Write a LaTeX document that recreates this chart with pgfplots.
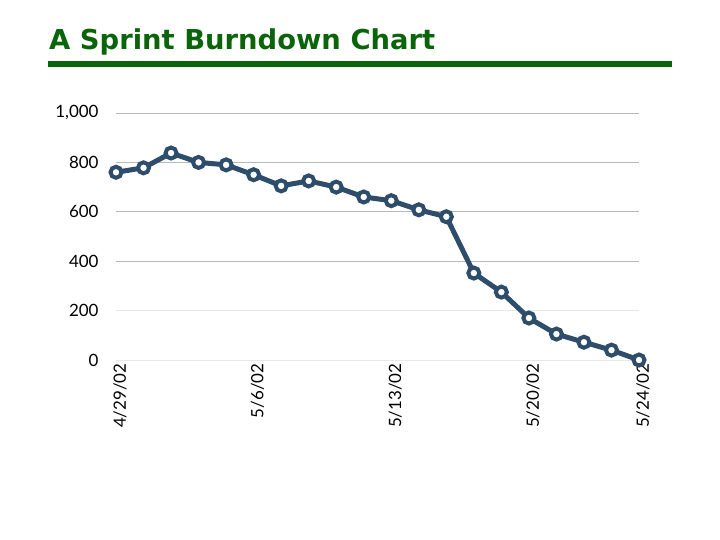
\documentclass[border=0pt]{standalone}
\usepackage{fontspec}
\setmainfont{Lato}
\newfontfamily\titlefont{DejaVu Sans}
\usepackage{pgfplots}
\pgfplotsset{compat=1.18}
\definecolor{burn}{HTML}{2D4D6B}
\definecolor{titlegreen}{HTML}{0A640A}

\begin{document}
\begin{tikzpicture}[x=1bp,y=1bp]
\useasboundingbox (0,0) rectangle (720,-540);
\node[anchor=base west, inner sep=0pt, text=titlegreen, font=\titlefont\bfseries\fontsize{27.5}{32}\selectfont] at (49,-50) {A Sprint Burndown Chart};
\fill[titlegreen] (48,-61) rectangle (672,-67);
\begin{axis}[
    at={(116bp,-360bp)}, anchor=south west,
    scale only axis,
    width=523bp, height=247bp,
    xmin=0, xmax=19, ymin=0, ymax=1000,
    clip=false,
    axis line style={draw=none},
    major tick length=0pt,
    ymajorgrids,
    grid style={line width=1bp, color=black!28},
    ytick={400,600,800,1000},
    yticklabels={400,600,800,{1,000}},
    extra y ticks={0,200},
    extra y tick labels={0,200},
    extra y tick style={grid style={line width=1bp, color=black!9}},
    extra tick style={major tick length=0pt},
    xtick={0,5,10,15,19},
    xticklabels={4/29/02,5/6/02,5/13/02,5/20/02,5/24/02},
    x tick label style={rotate=90, anchor=east, font=\fontsize{17}{19}\selectfont},
    y tick label style={font=\fontsize{17}{19}\selectfont},
    yticklabel style={xshift=-14bp},
    xticklabel style={yshift=-4bp},
    /pgf/number format/assume math mode=true,
]
\addplot[color=burn, line width=5bp, mark=*, mark size=5.5bp,
    mark options={fill=white, draw=burn, line width=4bp}]
  coordinates {
  (0,760) (1,778) (2,838) (3,800) (4,790)
  (5,750) (6,705) (7,725) (8,700) (9,660)
  (10,645) (11,608) (12,580) (13,352) (14,275)
  (15,170) (16,105) (17,72) (18,40) (19,0)
  };
\end{axis}
\end{tikzpicture}
\end{document}
